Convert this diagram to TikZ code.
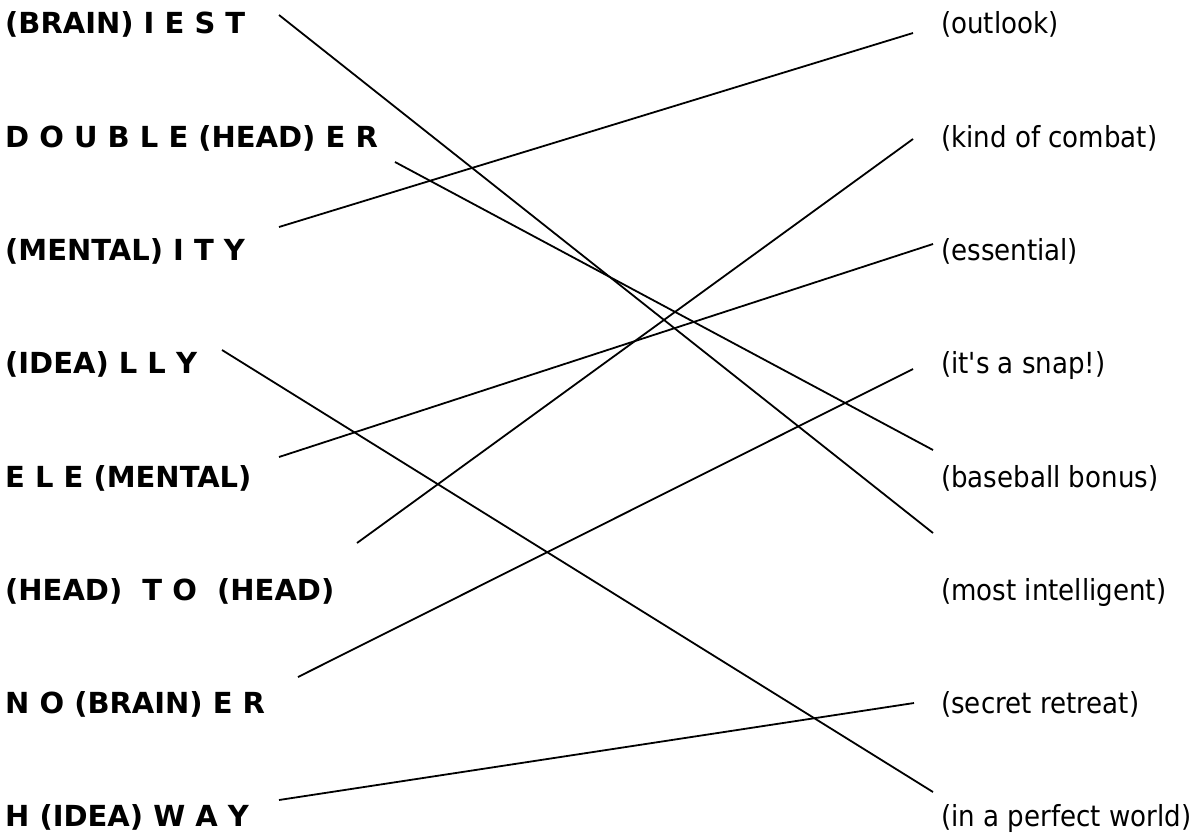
\documentclass[tikz,border=0pt]{standalone}
\usepackage{fontspec}
\setmainfont{DejaVu Sans}
\newfontfamily\rightfont[FakeStretch=0.9]{DejaVu Sans}
\begin{document}
\begin{tikzpicture}[x=1pt,y=-1pt,
  lbl/.style={anchor=base west,inner sep=0pt,font=\fontsize{29}{34}\selectfont\bfseries},
  rlbl/.style={anchor=base west,inner sep=0pt,font=\fontsize{29}{34}\selectfont\rightfont},
  link/.style={line width=1.8pt,black}]
\useasboundingbox (0,0) rectangle (1201,838);
% left column
\node[lbl] (L1) at (5,33)  {(BRAIN) I E S T};
\node[lbl] (L2) at (5,147) {D O U B L E (HEAD) E R};
\node[lbl] (L3) at (5,260) {(MENTAL) I T Y};
\node[lbl] (L4) at (5,373) {(IDEA) L L Y};
\node[lbl] (L5) at (5,487) {E L E (MENTAL)};
\node[lbl] (L6) at (5,600) {(HEAD)\ \ T O\ \ (HEAD)};
\node[lbl] (L7) at (5,713) {N O (BRAIN) E R};
\node[lbl] (L8) at (5,826) {H (IDEA) W A Y};
% right column
\node[rlbl] (R1) at (941,33)  {(outlook)};
\node[rlbl] (R2) at (941,147) {(kind of combat)};
\node[rlbl] (R3) at (941,260) {(essential)};
\node[rlbl] (R4) at (941,373) {(it's a snap!)};
\node[rlbl] (R5) at (941,487) {(baseball bonus)};
\node[rlbl] (R6) at (941,600) {(most intelligent)};
\node[rlbl] (R7) at (941,713) {(secret retreat)};
\node[rlbl] (R8) at (941,826) {(in a perfect world)};
% connector end points
\coordinate (a1) at (279,15);
\coordinate (a2) at (395,162);
\coordinate (a3) at (279,227);
\coordinate (a4) at (222,350);
\coordinate (a5) at (279,457);
\coordinate (a6) at (357,543);
\coordinate (a7) at (298,677);
\coordinate (a8) at (279,800);
\coordinate (b1) at (913,33);
\coordinate (b2) at (913,139);
\coordinate (b3) at (933,244);
\coordinate (b4) at (913,369);
\coordinate (b5) at (933,450);
\coordinate (b6) at (933,533);
\coordinate (b7) at (914,703);
\coordinate (b8) at (933,792);
% connectors
\draw[link] (a1) -- (b6);
\draw[link] (a2) -- (b5);
\draw[link] (a3) -- (b1);
\draw[link] (a4) -- (b8);
\draw[link] (a5) -- (b3);
\draw[link] (a6) -- (b2);
\draw[link] (a7) -- (b4);
\draw[link] (a8) -- (b7);
\end{tikzpicture}
\end{document}
